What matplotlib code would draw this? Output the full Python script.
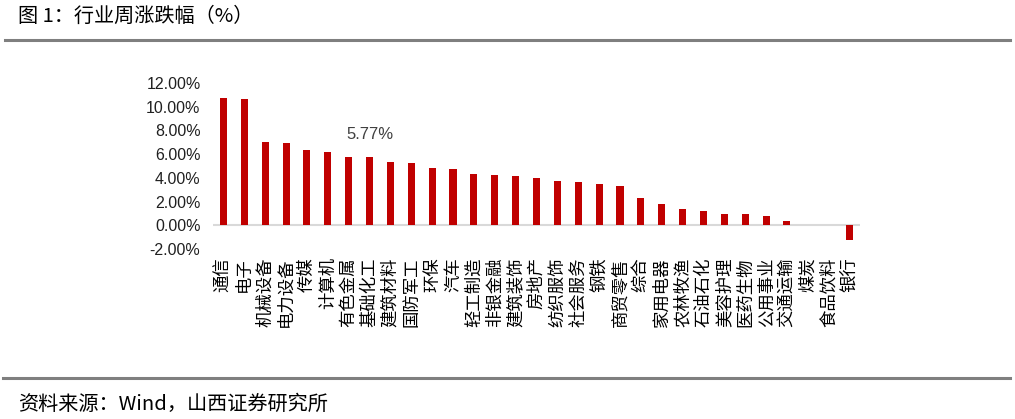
import matplotlib
matplotlib.use("Agg")
import matplotlib.pyplot as plt
from matplotlib.ticker import FuncFormatter

plt.rcParams['font.family'] = ['Noto Sans CJK SC', 'DejaVu Sans']

# 行业周涨跌幅 (%)
industries = ['通信', '电子', '机械设备', '电力设备', '传媒', '计算机', '有色金属', '基础化工',
              '建筑材料', '国防军工', '环保', '汽车', '轻工制造', '非银金融', '建筑装饰', '房地产',
              '纺织服饰', '社会服务', '钢铁', '商贸零售', '综合', '家用电器', '农林牧渔', '石油石化',
              '美容护理', '医药生物', '公用事业', '交通运输', '煤炭', '食品饮料', '银行']
changes = [10.72, 10.62, 7.05, 6.97, 6.32, 6.18, 5.78, 5.77,
           5.36, 5.28, 4.86, 4.72, 4.32, 4.24, 4.18, 3.96,
           3.73, 3.62, 3.52, 3.28, 2.27, 1.82, 1.40, 1.17,
           0.93, 0.91, 0.75, 0.36, 0.0, 0.0, -1.21]
label_idx = 7  # 基础化工 5.77%

fig = plt.figure(figsize=(10.15, 4.19), dpi=100)
ax = fig.add_axes([213 / 1015, 1 - 249 / 419, (860 - 213) / 1015, (249 - 83) / 419])

x = range(len(industries))
ax.bar(x, changes, width=0.34, color='#c00000', zorder=3)
ax.axhline(0, color='#d9d9d9', lw=1.5, zorder=2)

ax.annotate('{:.2f}%'.format(changes[label_idx]), (label_idx, changes[label_idx]),
            xytext=(0, 11), textcoords='offset points', ha='center', va='bottom',
            fontsize=12, family='Liberation Sans', color='#404040')

ax.set_xlim(-0.5, len(industries) - 0.5)
ax.set_ylim(-2, 12)
ax.set_yticks(range(-2, 13, 2))
ax.yaxis.set_major_formatter(FuncFormatter(lambda v, p: '{:.2f}%'.format(v)))
ax.set_xticks(list(x))
ax.set_xticklabels(industries, rotation=90, fontsize=12.5, va='top')
for t in ax.get_yticklabels():
    t.set_family('Liberation Sans')
    t.set_fontsize(11.5)
    t.set_color('#202020')
ax.tick_params(axis='both', length=0)
ax.tick_params(axis='y', pad=9)
ax.tick_params(axis='x', pad=6)
for s in ax.spines.values():
    s.set_visible(False)

# 标题和资料来源
fig.text(18 / 1015, 1 - 16 / 419, '图 1：行业周涨跌幅（%）', fontsize=14.5, va='center', ha='left')
fig.add_artist(plt.Line2D([5 / 1015, 1010 / 1015], [1 - 40 / 419] * 2, color='#7f7f7f', lw=2.2))
fig.add_artist(plt.Line2D([3 / 1015, 1010 / 1015], [1 - 378 / 419] * 2, color='#7f7f7f', lw=2.2))
fig.text(18 / 1015, 1 - 404 / 419, '资料来源：Wind，山西证券研究所', fontsize=14.5, va='center', ha='left')

fig.savefig('out.png', dpi=100)
